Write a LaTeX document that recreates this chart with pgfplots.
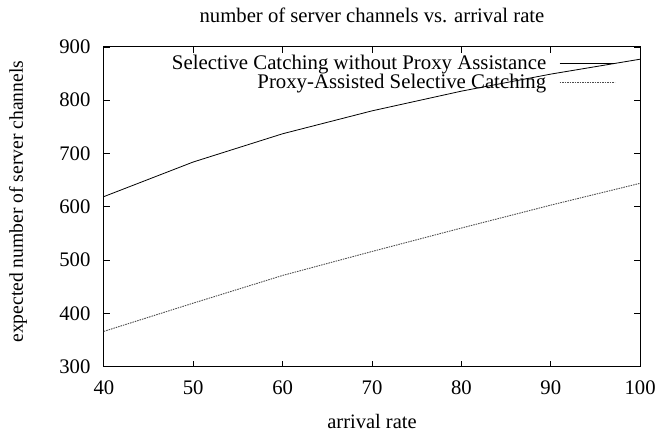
\documentclass[border=0pt]{standalone}
\usepackage{fontspec}
\setmainfont{Liberation Serif}
\usepackage{pgfplots}
\pgfplotsset{compat=1.18}
\begin{document}
\begin{tikzpicture}
\begin{axis}[
  scale only axis, width=537bp, height=320bp,
  at={(0,0)}, anchor=south west,
  xmin=40, xmax=100, ymin=300, ymax=900,
  xtick={40,50,...,100}, ytick={300,400,...,900},
  tick align=inside, major tick length=6bp,
  axis line style={line width=1bp},
  every tick/.style={black, line width=0.8bp},
  /pgf/number format/assume math mode=true,
  tick label style={font=\fontsize{20.8}{22}\selectfont},
  yticklabel style={xshift=-10bp},
  xticklabel style={yshift=-11bp},
  title={number of server channels vs. arrival rate},
  title style={font=\fontsize{20.8}{24}\selectfont, at={(axis description cs:0.5,1.08)}, anchor=center},
  xlabel={arrival rate},
  xlabel style={font=\fontsize{20.6}{24}\selectfont, at={(axis description cs:0.5,-0.172)}, anchor=center},
  ylabel={expected number of server channels},
  ylabel style={font=\fontsize{19.7}{24}\selectfont, at={(axis description cs:-0.1601,0.516)}, anchor=center},
  legend style={draw=none, fill=none, font=\fontsize{20.9}{24}\selectfont, at={(rel axis cs:0.9535,0.975)}, anchor=north east, inner sep=0pt, nodes={inner sep=0pt}, column sep=13bp, row sep=3bp},
  legend cell align=right,
  legend plot pos=right,
  legend image code/.code={\draw[#1] (0bp,0bp) -- (55bp,0bp);},
]
\addplot[black, line width=0.8bp] coordinates {
  (40,619) (50,684) (60,737) (70,780) (80,817) (90,849) (100,877)
};
\addlegendentry{Selective Catching without Proxy Assistance}
\addplot[black!70, line width=0.9bp, dash pattern=on 1.5bp off 1bp] coordinates {
  (40,366) (50,419) (60,471) (70,516) (80,560) (90,603) (100,644)
};
\addlegendentry{Proxy-Assisted Selective Catching}
\end{axis}
\path (-104bp,-63bp) rectangle (555bp,367bp);
\end{tikzpicture}
\end{document}
